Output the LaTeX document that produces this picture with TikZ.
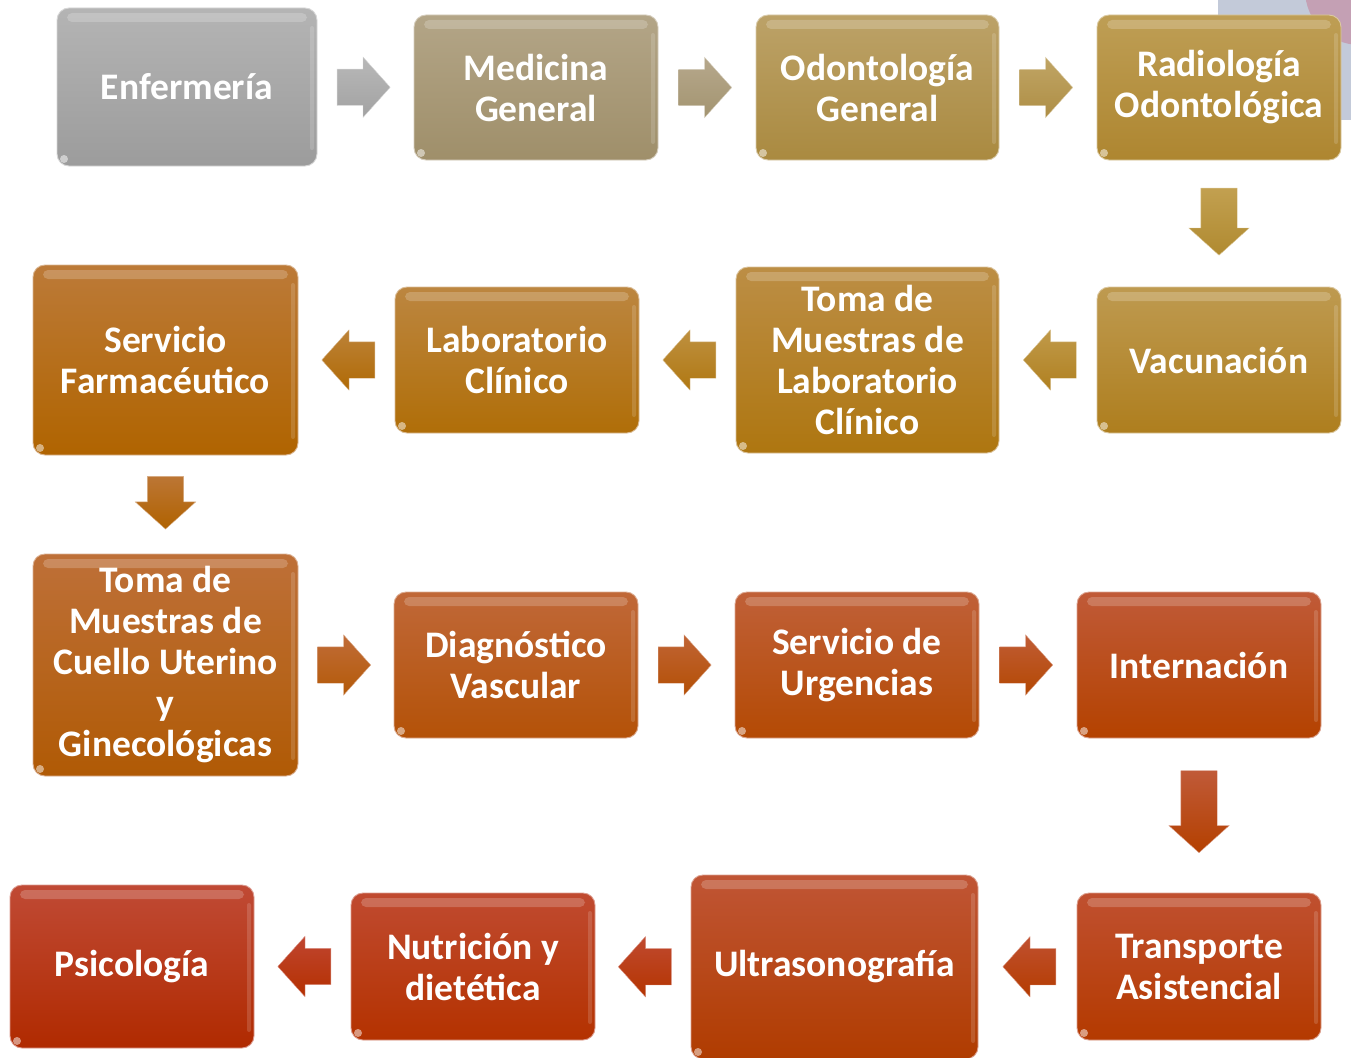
\documentclass[tikz,border=0pt]{standalone}
\usepackage{fontspec}
\setmainfont{Carlito}
\usetikzlibrary{shapes.arrows,calc}
% box colours (top / bottom)
\definecolor{bgblue}{HTML}{C3CAD9}
\definecolor{bgmauve}{HTML}{C4A0B4}
\definecolor{tA}{HTML}{B4B4B4}\definecolor{bA}{HTML}{9C9C9C}
\definecolor{tB}{HTML}{B3A587}\definecolor{bB}{HTML}{9F8F6A}
\definecolor{tC}{HTML}{BCA268}\definecolor{bC}{HTML}{AA8A40}
\definecolor{tD}{HTML}{BE9E55}\definecolor{bD}{HTML}{AE8630}
\definecolor{tE}{HTML}{BE9A50}\definecolor{bE}{HTML}{AE7E1E}
\definecolor{tF}{HTML}{BC8E45}\definecolor{bF}{HTML}{AE7610}
\definecolor{tG}{HTML}{BC8640}\definecolor{bG}{HTML}{B06E08}
\definecolor{tH}{HTML}{BC7A38}\definecolor{bH}{HTML}{B06400}
\definecolor{tI}{HTML}{BE7038}\definecolor{bI}{HTML}{B05A05}
\definecolor{tJ}{HTML}{C06838}\definecolor{bJ}{HTML}{B45208}
\definecolor{tK}{HTML}{C06038}\definecolor{bK}{HTML}{B44A04}
\definecolor{tL}{HTML}{C05A38}\definecolor{bL}{HTML}{B44200}
\definecolor{tM}{HTML}{C05030}\definecolor{bM}{HTML}{B43A00}
\definecolor{tN}{HTML}{C05535}\definecolor{bN}{HTML}{B03C00}
\definecolor{tO}{HTML}{C04A30}\definecolor{bO}{HTML}{B43200}
\definecolor{tP}{HTML}{C04A35}\definecolor{bP}{HTML}{B02A00}
% arrow colours
\definecolor{ta1}{HTML}{B8B8B8}\definecolor{ba1}{HTML}{A2A2A2}
\definecolor{ta2}{HTML}{B6A88C}\definecolor{ba2}{HTML}{A39470}
\definecolor{ta3}{HTML}{C0A565}\definecolor{ba3}{HTML}{AE8E45}
\definecolor{ta4}{HTML}{C2A050}\definecolor{ba4}{HTML}{B08A30}
\definecolor{ta5}{HTML}{C09A4A}\definecolor{ba5}{HTML}{B08020}
\definecolor{ta6}{HTML}{BE9040}\definecolor{ba6}{HTML}{B07812}
\definecolor{ta7}{HTML}{BC8238}\definecolor{ba7}{HTML}{B06A05}
\definecolor{ta8}{HTML}{BC7635}\definecolor{ba8}{HTML}{B06200}
\definecolor{ta9}{HTML}{C06C38}\definecolor{ba9}{HTML}{B45A08}
\definecolor{ta10}{HTML}{C06435}\definecolor{ba10}{HTML}{B45005}
\definecolor{ta11}{HTML}{C05C35}\definecolor{ba11}{HTML}{B44802}
\definecolor{ta12}{HTML}{C05A38}\definecolor{ba12}{HTML}{B44000}
\definecolor{ta13}{HTML}{C05030}\definecolor{ba13}{HTML}{B43C00}
\definecolor{ta14}{HTML}{C04A30}\definecolor{ba14}{HTML}{B43400}
\definecolor{ta15}{HTML}{C04530}\definecolor{ba15}{HTML}{B43000}
\begin{document}
\begin{tikzpicture}[x=1pt,y=-1pt,
  box/.style n args={2}{rectangle, rounded corners=12pt, top color=#1, bottom color=#2,
    draw=#1!55!white, line width=0.9pt, text=white,
    font=\bfseries\fontsize{37.5}{41}\selectfont, align=center, inner sep=0pt,
    path picture={
      \fill[white, opacity=0.2, rounded corners=5pt]
        ($(path picture bounding box.north west)+(10,5)$) rectangle
        ($(path picture bounding box.north east)+(-10,14)$);
      \fill[white, opacity=0.15, rounded corners=2pt]
        ($(path picture bounding box.north east)+(-7,18)$) rectangle
        ($(path picture bounding box.south east)+(-3,-16)$);
      \fill[white, opacity=0.5]
        ($(path picture bounding box.south west)+(7,-7)$) circle (4);
    }},
  arr/.style n args={3}{single arrow, shape border rotate=#1, top color=#2, bottom color=#3,
    draw=#2!60!white, line width=0.4pt, minimum width=60pt,
    single arrow head extend=12pt, single arrow tip angle=96, inner sep=18pt},
  toright/.style={xshift=-10pt},
  toleft/.style={xshift=10pt},
  todown/.style={yshift=10pt}
]
\useasboundingbox (0,0) rectangle (1351,1057);
% background fragment, top right
\fill[bgblue] (1218,0) rectangle (1351,120);
\fill[bgmauve] (1360,-10) circle (55);

% row 1
\node[box={tA}{bA}, minimum width=260pt, minimum height=158pt] (b1) at (187,87) {Enfermería};
\node[box={tB}{bB}, minimum width=244pt, minimum height=145pt] (b2) at (536,87.5) {Medicina\\General};
\node[box={tC}{bC}, minimum width=243pt, minimum height=145pt] (b3) at (877.5,87.5) {Odontología\\General};
\node[box={tD}{bD}, minimum width=244pt, minimum height=145pt] (b4) at (1219,87.5) {Radiología\\Odontológica};
% row 2
\node[box={tE}{bE}, minimum width=244pt, minimum height=146pt] (b5) at (1219,360) {Vacunación};
\node[box={tF}{bF}, minimum width=263pt, minimum height=186pt] (b6) at (867.5,360) {Toma de\\Muestras de\\Laboratorio\\Clínico};
\node[box={tG}{bG}, minimum width=244pt, minimum height=146pt] (b7) at (517,360) {Laboratorio\\Clínico};
\node[box={tH}{bH}, minimum width=265pt, minimum height=190pt] (b8) at (165.5,360) {Servicio\\Farmacéutico};
% row 3
\node[box={tI}{bI}, minimum width=265pt, minimum height=222pt] (b9) at (165.5,665) {Toma de\\Muestras de\\Cuello Uterino\\y\\Ginecológicas};
\node[box={tJ}{bJ}, minimum width=244pt, minimum height=146pt] (b10) at (516,665) {Diagnóstico\\Vascular};
\node[box={tK}{bK}, minimum width=244pt, minimum height=146pt] (b11) at (857,665) {Servicio de\\Urgencias};
\node[box={tL}{bL}, minimum width=244pt, minimum height=146pt] (b12) at (1199,665) {Internación};
% row 4
\node[box={tM}{bM}, minimum width=244pt, minimum height=147pt] (b13) at (1199,966.5) {Transporte\\Asistencial};
\node[box={tN}{bN}, minimum width=287pt, minimum height=184pt] (b14) at (834.5,967) {Ultrasonografía};
\node[box={tO}{bO}, minimum width=244pt, minimum height=147pt] (b15) at (473,966.5) {Nutrición y\\dietética};
\node[box={tP}{bP}, minimum width=244pt, minimum height=163pt] (b16) at (132,966.5) {Psicología};

% arrows
\node[arr={0}{ta1}{ba1}, minimum height=53pt, toright] (a1) at ($(b1.east)!0.5!(b2.west)$) {};
\node[arr={0}{ta2}{ba2}, minimum height=53pt, toright] (a2) at ($(b2.east)!0.5!(b3.west)$) {};
\node[arr={0}{ta3}{ba3}, minimum height=53pt, toright] (a3) at ($(b3.east)!0.5!(b4.west)$) {};
\node[arr={270}{ta4}{ba4}, minimum height=67pt, todown] (a4) at ($(b4.south)!0.5!(b5.north)$) {};
\node[arr={180}{ta5}{ba5}, minimum height=53pt, toleft] (a5) at ($(b5.west)!0.5!(b6.east)$) {};
\node[arr={180}{ta6}{ba6}, minimum height=53pt, toleft] (a6) at ($(b6.west)!0.5!(b7.east)$) {};
\node[arr={180}{ta7}{ba7}, minimum height=53pt, toleft] (a7) at ($(b7.west)!0.5!(b8.east)$) {};
\node[arr={270}{ta8}{ba8}, minimum height=51pt, todown] (a8) at ($(b8.south)!0.5!(b9.north)$) {};
\node[arr={0}{ta9}{ba9}, minimum height=53pt, toright] (a9) at ($(b9.east)!0.5!(b10.west)$) {};
\node[arr={0}{ta10}{ba10}, minimum height=53pt, toright] (a10) at ($(b10.east)!0.5!(b11.west)$) {};
\node[arr={0}{ta11}{ba11}, minimum height=53pt, toright] (a11) at ($(b11.east)!0.5!(b12.west)$) {};
\node[arr={270}{ta12}{ba12}, minimum height=82pt, todown, yshift=2pt] (a12) at ($(b12.south)!0.5!(b13.north)$) {};
\node[arr={180}{ta13}{ba13}, minimum height=53pt, toleft] (a13) at ($(b13.west)!0.5!(b14.east)$) {};
\node[arr={180}{ta14}{ba14}, minimum height=53pt, toleft] (a14) at ($(b14.west)!0.5!(b15.east)$) {};
\node[arr={180}{ta15}{ba15}, minimum height=53pt, toleft] (a15) at ($(b15.west)!0.5!(b16.east)$) {};
\end{tikzpicture}
\end{document}
